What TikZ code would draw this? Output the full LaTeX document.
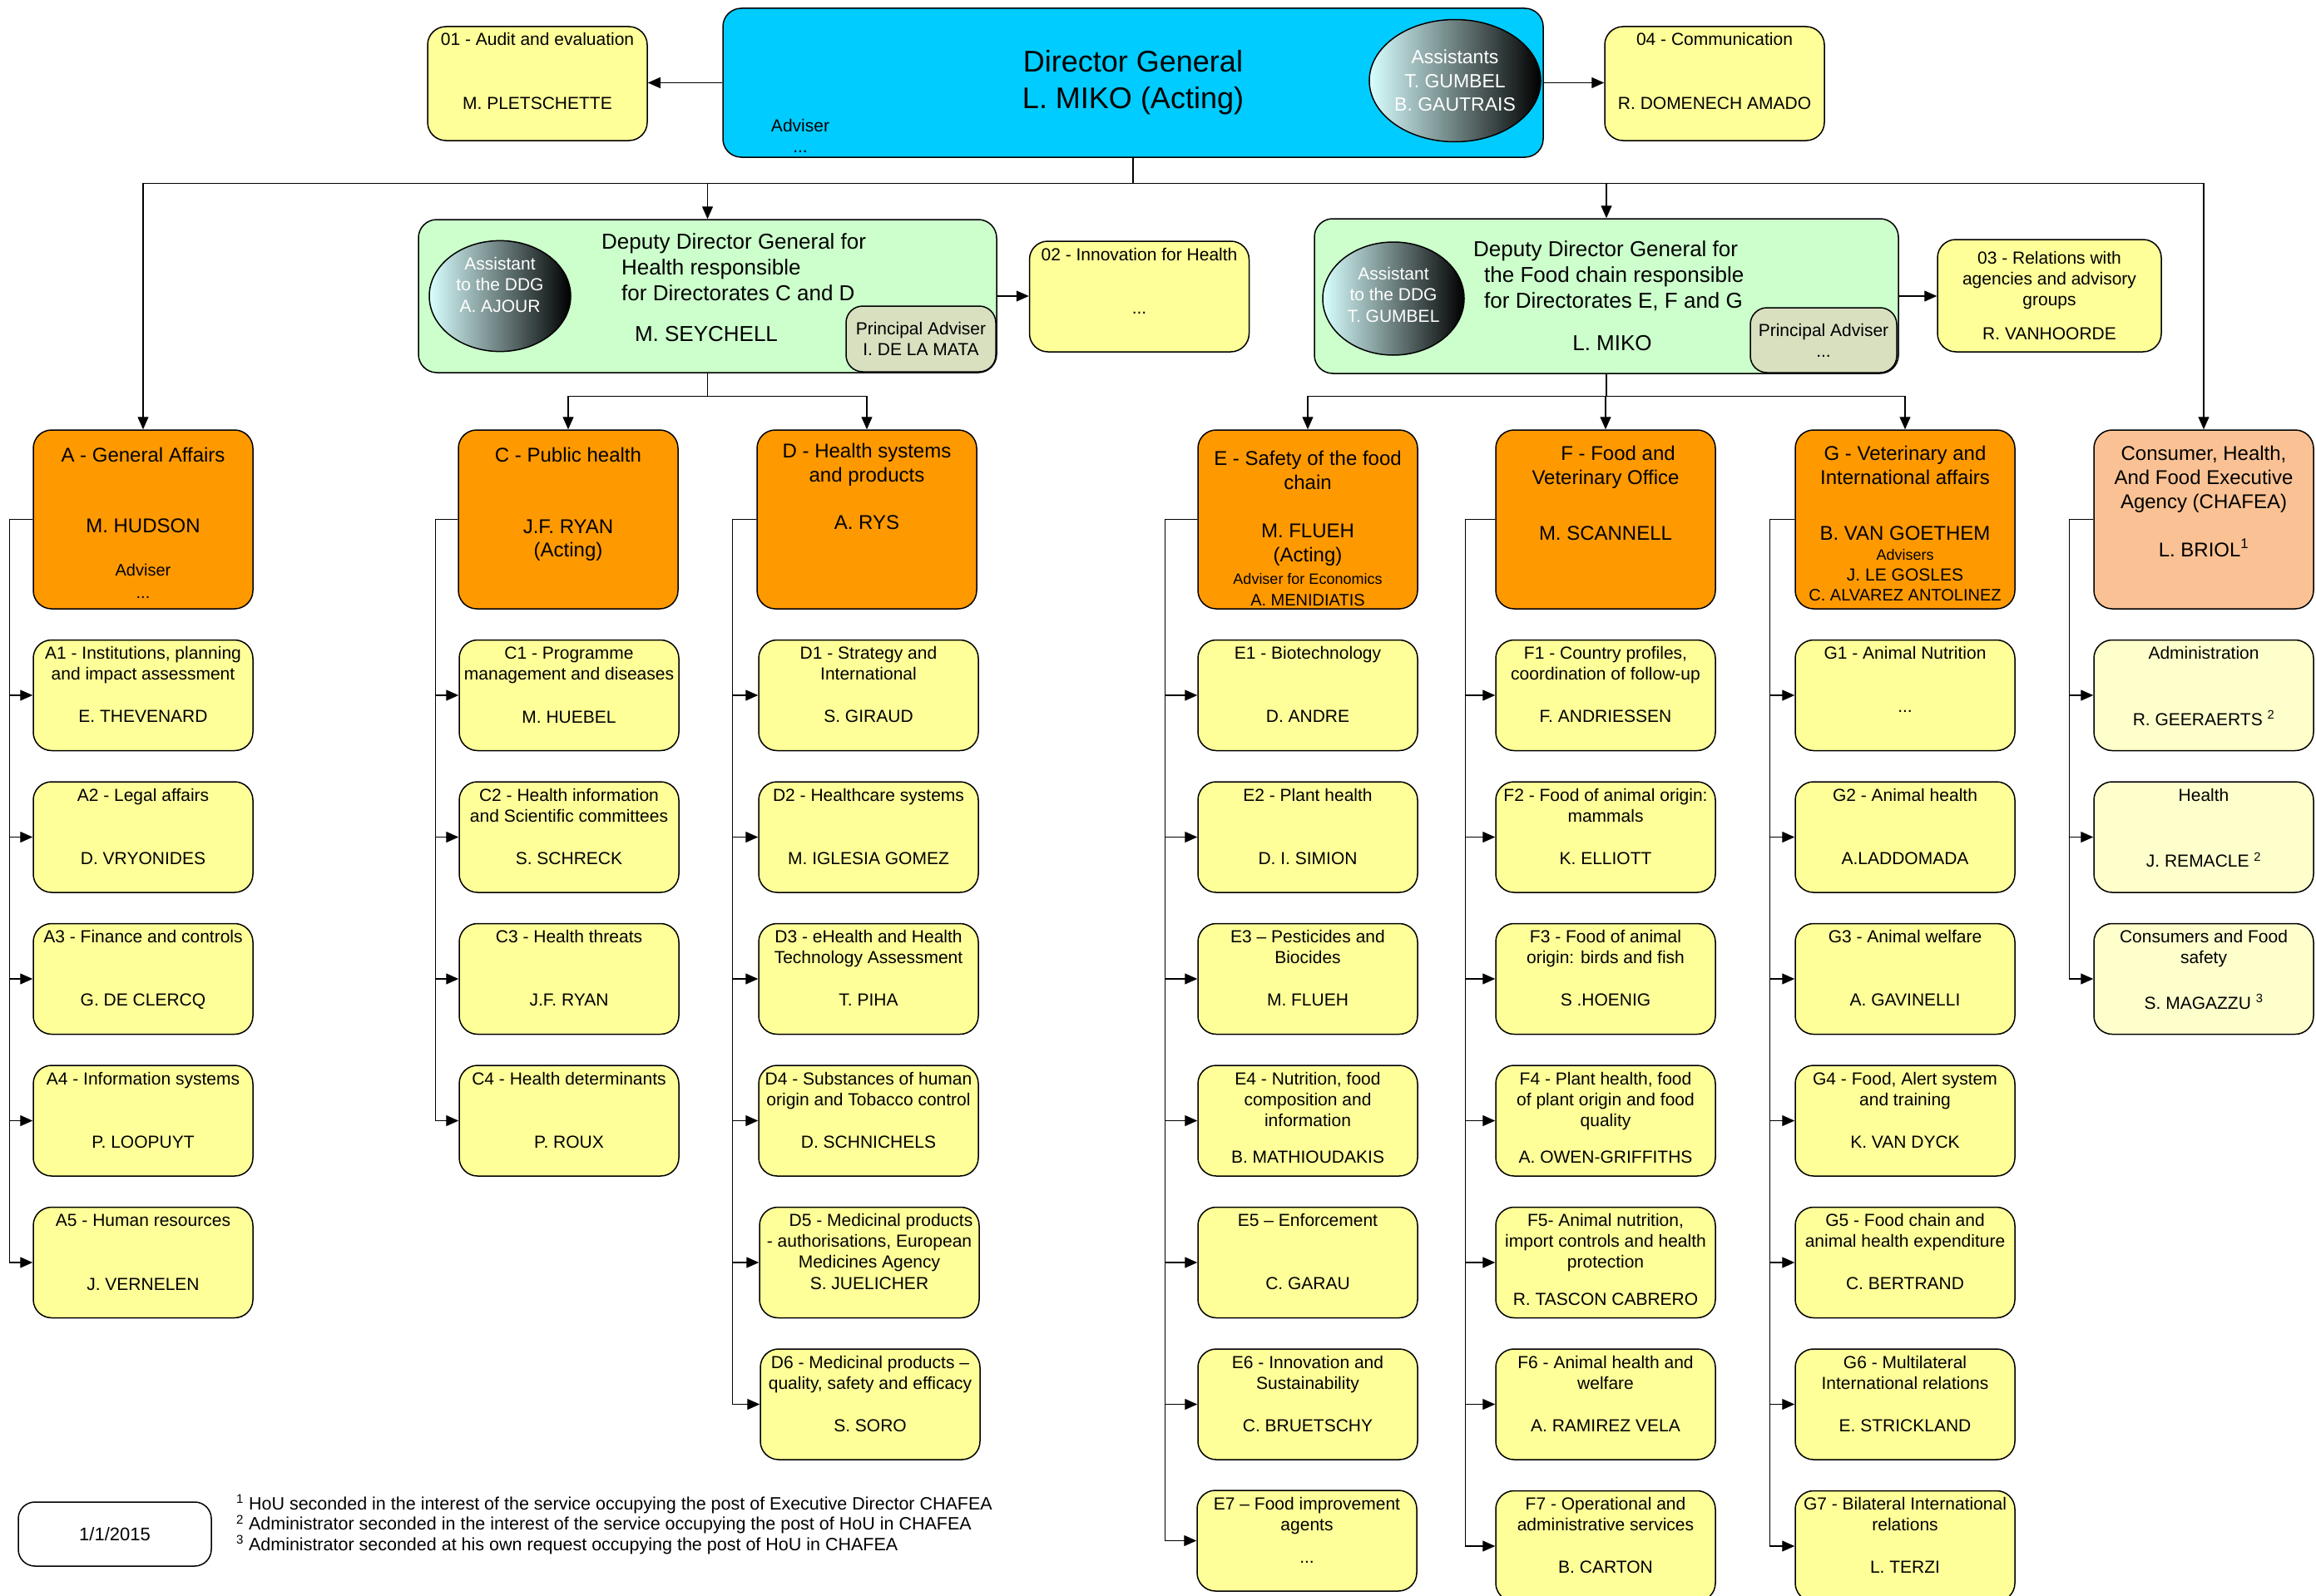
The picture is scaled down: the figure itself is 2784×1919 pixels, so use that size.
\documentclass[tikz,border=0pt]{standalone}
\usepackage{fontspec}
\setmainfont{Liberation Sans}
\usetikzlibrary{shapes.geometric,arrows.meta}

\definecolor{dgblue}{RGB}{0,204,255}
\definecolor{ddggreen}{RGB}{204,255,204}
\definecolor{unityellow}{RGB}{255,255,153}
\definecolor{paleyellow}{RGB}{255,255,204}
\definecolor{dirorange}{RGB}{255,153,0}
\definecolor{agencypeach}{RGB}{250,194,148}
\definecolor{advgrey}{RGB}{216,224,192}

% unit box text: title on top, name on the fourth line
\newcommand{\unittext}[3][133pt]{\parbox[c][#1][t]{264pt}{\centering\rule{0pt}{23pt}\parbox[t][76pt][t]{264pt}{\centering #2}\par #3}}
% directorate box text, first baseline given
\newcommand{\dirtext}[2]{\parbox[c][215pt][t]{264pt}{\centering\rule{0pt}{#1}#2}}
\newcommand{\smalltext}{\fontsize{20}{29}\selectfont}
\newcommand{\tinytext}{\fontsize{18}{29}\selectfont}

\begin{document}
\begin{tikzpicture}[x=1pt,y=-1pt,
  every node/.style={inner sep=0pt},
  box/.style={draw=black,line width=1.5pt,rounded corners=22pt},
  unit/.style={box,fill=unityellow,font=\fontsize{21}{25}\selectfont},
  agencyunit/.style={box,fill=paleyellow,font=\fontsize{21}{25}\selectfont},
  directorate/.style={box,fill=dirorange,font=\fontsize{24}{29}\selectfont},
  assistant/.style={ellipse,draw=black,line width=1.5pt,left color=cyan!15,right color=black,text=white,align=center,font=\fontsize{21}{25.5}\selectfont},
  link/.style={line width=1.2pt,-{Triangle[length=15pt,width=13pt]}}]
	\fill[white] (0,0) rectangle (2784,1919);
	\useasboundingbox (0,0) rectangle (2784,1919);

	% top level
	\node[box,fill=dgblue,minimum width=986pt,minimum height=179pt,align=center,font=\fontsize{36}{44}\selectfont] (dg) at (1362,99.5) {Director General\\L. MIKO (Acting)};
	\node[assistant,minimum width=194pt,minimum height=147pt,font=\fontsize{23}{28.5}\selectfont] (dgassist) at (1749,97) {Assistants\\T. GUMBEL\\B. GAUTRAIS};
	\node[align=center,font=\fontsize{21}{25}\selectfont] (dgadv) at (962,163) {Adviser\\...};
	\node[unit] (audit) at (646,100.5) {\unittext[137pt]{01 - Audit and evaluation}{M. PLETSCHETTE}};
	\node[unit] (comm) at (2061,100.5) {\unittext[137pt]{04 - Communication}{R. DOMENECH AMADO}};

	% deputy directors general
	\node[box,fill=ddggreen,minimum width=695pt,minimum height=184pt] (ddgh) at (850.5,356) {};
	\node[assistant,minimum width=170pt,minimum height=130pt] (ddghassist) at (601,356) {Assistant\\to the  DDG\\A. AJOUR\\[2.5pt]\mbox{}};
	\node[anchor=north west,align=left,font=\fontsize{26}{31}\selectfont] (ddghtitle) at (723,280) {Deputy Director General for\\\hspace*{24pt}Health responsible\\\hspace*{24pt}for Directorates C and D};
	\node[font=\fontsize{26}{31}\selectfont] (ddghname) at (849,402) {M. SEYCHELL};
	\node[box,fill=advgrey,rounded corners=20pt,minimum width=180pt,minimum height=79pt,align=center,font=\fontsize{21}{25}\selectfont] (ddghadv) at (1107,407.5) {Principal Adviser\\I. DE LA MATA};
	\node[unit] (inno) at (1369.5,356.5) {\unittext{02 - Innovation for Health}{...}};

	\node[box,fill=ddggreen,minimum width=702pt,minimum height=186pt] (ddgf) at (1931,356) {};
	\node[assistant,minimum width=170pt,minimum height=136pt] (ddgfassist) at (1675,359) {Assistant\\to the  DDG\\T. GUMBEL\\[-15.5pt]\mbox{}};
	\node[anchor=north west,align=left,font=\fontsize{26}{31}\selectfont] (ddgftitle) at (1771,289) {Deputy Director General for\\\hspace*{13pt}the Food chain responsible\\\hspace*{13pt}for Directorates E, F and G};
	\node[font=\fontsize{26}{31}\selectfont] (ddgfname) at (1938,413) {L. MIKO};
	\node[box,fill=advgrey,rounded corners=20pt,minimum width=176pt,minimum height=78pt,align=center,font=\fontsize{21}{25}\selectfont] (ddgfadv) at (2192,409) {Principal Adviser\\...};
	\node[unit,minimum width=269pt,minimum height=135pt,align=center] (rel) at (2463.5,355.5) {03 - Relations with\\agencies and advisory\\groups\\[16pt]R. VANHOORDE};

	% directorates
	\node[directorate] (dira) at (172,624.5) {\dirtext{38pt}{A - General Affairs\\[56pt]M. HUDSON\\[23pt]{\smalltext Adviser}\\[-2pt]{\smalltext ...}}};
	\node[directorate] (dirc) at (683,624.5) {\dirtext{38pt}{C - Public health\\[57pt]J.F. RYAN\\[-1pt](Acting)}};
	\node[directorate] (dird) at (1042,624.5) {\dirtext{33pt}{D - Health systems\\and products\\[28pt]A. RYS}};
	\node[directorate] (dire) at (1572,624.5) {\dirtext{42pt}{E - Safety of the food\\chain\\[29pt]M. FLUEH\\[0pt](Acting)\\[-2pt]{\tinytext Adviser for Economics}\\[-3pt]{\smalltext A. MENIDIATIS}}};
	\node[directorate] (dirf) at (1930,624.5) {\dirtext{36pt}{\hspace*{30pt}F - Food and\\Veterinary Office\\[38pt]M. SCANNELL}};
	\node[directorate] (dirg) at (2290,624.5) {\dirtext{36pt}{G - Veterinary and\\International affairs\\[38pt]B. VAN GOETHEM\\[-5pt]{\tinytext Advisers}\\[-4pt]{\fontsize{21}{29}\selectfont J. LE GOSLES}\\[-5pt]{\smalltext C. ALVAREZ ANTOLINEZ}}};
	\node[directorate,fill=agencypeach] (dirch) at (2649,624.5) {\dirtext{36pt}{Consumer, Health,\\And Food Executive\\Agency (CHAFEA)\\[29pt]L. BRIOL\textsuperscript{1}}};

	% units A
	\node[unit] (a1) at (172,836) {\unittext{A1 - Institutions, planning\\and impact assessment}{E. THEVENARD}};
	\node[unit] (a2) at (172,1006.5) {\unittext{A2 - Legal affairs}{D. VRYONIDES}};
	\node[unit] (a3) at (172,1177) {\unittext{A3 - Finance and controls}{G. DE CLERCQ}};
	\node[unit] (a4) at (172,1347.5) {\unittext{A4 - Information systems}{P. LOOPUYT}};
	\node[unit] (a5) at (172,1518) {\unittext{A5 - Human resources}{J. VERNELEN}};

	% units C
	\node[unit] (c1) at (684,836) {\unittext{C1 - Programme\\management and diseases}{M. HUEBEL}};
	\node[unit] (c2) at (684,1006.5) {\unittext{C2 - Health information\\and Scientific committees}{S. SCHRECK}};
	\node[unit] (c3) at (684,1177) {\unittext{C3 - Health threats}{J.F. RYAN}};
	\node[unit] (c4) at (684,1347.5) {\unittext{C4 - Health determinants}{P. ROUX}};

	% units D
	\node[unit] (d1) at (1044,836) {\unittext{D1 - Strategy and\\International}{S. GIRAUD}};
	\node[unit] (d2) at (1044,1006.5) {\unittext{D2 - Healthcare systems}{M. IGLESIA GOMEZ}};
	\node[unit] (d3) at (1044,1177) {\unittext{D3 - eHealth and Health\\Technology Assessment}{T. PIHA}};
	\node[unit] (d4) at (1044,1347.5) {\unittext{D4 - Substances of human\\origin and Tobacco control}{D. SCHNICHELS}};
	\node[unit] (d5) at (1045,1518) {\unittext{\hspace*{28pt}D5 - Medicinal products\\- authorisations, European\\Medicines Agency}{S. JUELICHER}};
	\node[unit] (d6) at (1046,1688.5) {\unittext{D6 - Medicinal products –\\quality, safety and efficacy}{S. SORO}};

	% units E
	\node[unit] (e1) at (1572,836) {\unittext{E1 - Biotechnology}{D. ANDRE}};
	\node[unit] (e2) at (1572,1006.5) {\unittext{E2 - Plant health}{D. I. SIMION}};
	\node[unit] (e3) at (1572,1177) {\unittext{E3 – Pesticides and\\Biocides}{M. FLUEH}};
	\node[unit] (e4) at (1572,1347.5) {\unittext{E4 - Nutrition, food\\composition and\\information}{\rule{0pt}{33pt}B. MATHIOUDAKIS}};
	\node[unit] (e5) at (1572,1518) {\unittext{E5 – Enforcement}{C. GARAU}};
	\node[unit] (e6) at (1572,1688.5) {\unittext{E6 - Innovation and\\Sustainability}{C. BRUETSCHY}};
	\node[unit] (e7) at (1571,1852.5) {\unittext[121pt]{E7 – Food improvement\\agents}{...}};

	% units F
	\node[unit] (f1) at (1930,836) {\unittext{F1 - Country profiles,\\coordination of follow-up}{F. ANDRIESSEN}};
	\node[unit] (f2) at (1930,1006.5) {\unittext{F2 - Food of animal origin:\\mammals}{K. ELLIOTT}};
	\node[unit] (f3) at (1930,1177) {\unittext{F3 - Food of animal\\origin: birds and fish}{S .HOENIG}};
	\node[unit] (f4) at (1930,1347.5) {\unittext{F4 - Plant health, food\\of plant origin and food\\quality}{\rule{0pt}{33pt}A. OWEN-GRIFFITHS}};
	\node[unit] (f5) at (1930,1518) {\unittext{F5- Animal nutrition,\\import controls and health\\protection}{\rule{0pt}{33pt}R. TASCON CABRERO}};
	\node[unit] (f6) at (1930,1688.5) {\unittext{F6 - Animal health and\\welfare}{A. RAMIREZ VELA}};
	\node[unit] (f7) at (1930,1859) {\unittext{F7 - Operational and\\administrative services}{B. CARTON}};

	% units G
	\node[unit] (g1) at (2290,836) {\unittext{G1 - Animal Nutrition}{...}};
	\node[unit] (g2) at (2290,1006.5) {\unittext{G2 - Animal health}{A.LADDOMADA}};
	\node[unit] (g3) at (2290,1177) {\unittext{G3 - Animal welfare}{A. GAVINELLI}};
	\node[unit] (g4) at (2290,1347.5) {\unittext{G4 - Food, Alert system\\and training}{K. VAN DYCK}};
	\node[unit] (g5) at (2290,1518) {\unittext{G5 - Food chain and\\animal health expenditure}{C. BERTRAND}};
	\node[unit] (g6) at (2290,1688.5) {\unittext{G6 - Multilateral\\International relations}{E. STRICKLAND}};
	\node[unit] (g7) at (2290,1859) {\unittext{G7 - Bilateral International\\relations}{L. TERZI}};

	% units CHAFEA
	\node[agencyunit] (h1) at (2649,836) {\unittext{Administration}{R. GEERAERTS \textsuperscript{2}}};
	\node[agencyunit] (h2) at (2649,1006.5) {\unittext{Health}{J. REMACLE \textsuperscript{2}}};
	\node[agencyunit] (h3) at (2649,1177) {\unittext{Consumers and Food\\safety}{S. MAGAZZU \textsuperscript{3}}};

	% date and notes
	\node[box,fill=white,rounded corners=20pt,minimum width=232pt,minimum height=77pt,font=\fontsize{22}{26}\selectfont] (date) at (138,1844.5) {1/1/2015};
	\node[anchor=north west,align=left,font=\fontsize{21.5}{24.5}\selectfont] (notes) at (284,1797) {\textsuperscript{1} HoU seconded in the interest of the service occupying the post of Executive Director CHAFEA\\\textsuperscript{2} Administrator seconded in the interest of the service occupying the post of HoU in CHAFEA\\\textsuperscript{3} Administrator seconded at his own request occupying the post of HoU in CHAFEA};

	% connectors
	\draw[link] (dg.west) -- (dg.west -| audit.east);
	\draw[link] (dg.east) -- (dg.east -| comm.west);
	\draw[link] (dg.south) -- ++(0,31) -| (dira.north);
	\draw[link] (dg.south) -- ++(0,31) -| (ddgh.north);
	\draw[link] (dg.south) -- ++(0,31) -| (ddgf.north);
	\draw[link] (dg.south) -- ++(0,31) -| (dirch.north);
	\draw[link] (ddgh.east) -- (ddgh.east -| inno.west);
	\draw[link] (ddgf.east) -- (ddgf.east -| rel.west);
	\draw[link] (ddgh.south) -- ++(0,28) -| (dirc.north);
	\draw[link] (ddgh.south) -- ++(0,28) -| (dird.north);
	\draw[link] (ddgf.south) -- ++(0,27) -| (dire.north);
	\draw[link] (ddgf.south) -- ++(0,27) -| (dirf.north);
	\draw[link] (ddgf.south) -- ++(0,27) -| (dirg.north);

	\draw[link] (dira.west) -- ++(-28,0) |- (a1.west);
	\draw[link] (dira.west) -- ++(-28,0) |- (a2.west);
	\draw[link] (dira.west) -- ++(-28,0) |- (a3.west);
	\draw[link] (dira.west) -- ++(-28,0) |- (a4.west);
	\draw[link] (dira.west) -- ++(-28,0) |- (a5.west);

	\draw[link] (dirc.west) -- ++(-27,0) |- (c1.west);
	\draw[link] (dirc.west) -- ++(-27,0) |- (c2.west);
	\draw[link] (dirc.west) -- ++(-27,0) |- (c3.west);
	\draw[link] (dirc.west) -- ++(-27,0) |- (c4.west);

	\draw[link] (dird.west) -- ++(-29,0) |- (d1.west);
	\draw[link] (dird.west) -- ++(-29,0) |- (d2.west);
	\draw[link] (dird.west) -- ++(-29,0) |- (d3.west);
	\draw[link] (dird.west) -- ++(-29,0) |- (d4.west);
	\draw[link] (dird.west) -- ++(-29,0) |- (d5.west);
	\draw[link] (dird.west) -- ++(-29,0) |- (d6.west);

	\draw[link] (dire.west) -- ++(-39,0) |- (e1.west);
	\draw[link] (dire.west) -- ++(-39,0) |- (e2.west);
	\draw[link] (dire.west) -- ++(-39,0) |- (e3.west);
	\draw[link] (dire.west) -- ++(-39,0) |- (e4.west);
	\draw[link] (dire.west) -- ++(-39,0) |- (e5.west);
	\draw[link] (dire.west) -- ++(-39,0) |- (e6.west);
	\draw[link] (dire.west) -- ++(-39,0) |- (e7.west);

	\draw[link] (dirf.west) -- ++(-36,0) |- (f1.west);
	\draw[link] (dirf.west) -- ++(-36,0) |- (f2.west);
	\draw[link] (dirf.west) -- ++(-36,0) |- (f3.west);
	\draw[link] (dirf.west) -- ++(-36,0) |- (f4.west);
	\draw[link] (dirf.west) -- ++(-36,0) |- (f5.west);
	\draw[link] (dirf.west) -- ++(-36,0) |- (f6.west);
	\draw[link] (dirf.west) -- ++(-36,0) |- (f7.west);

	\draw[link] (dirg.west) -- ++(-30,0) |- (g1.west);
	\draw[link] (dirg.west) -- ++(-30,0) |- (g2.west);
	\draw[link] (dirg.west) -- ++(-30,0) |- (g3.west);
	\draw[link] (dirg.west) -- ++(-30,0) |- (g4.west);
	\draw[link] (dirg.west) -- ++(-30,0) |- (g5.west);
	\draw[link] (dirg.west) -- ++(-30,0) |- (g6.west);
	\draw[link] (dirg.west) -- ++(-30,0) |- (g7.west);

	\draw[link] (dirch.west) -- ++(-29,0) |- (h1.west);
	\draw[link] (dirch.west) -- ++(-29,0) |- (h2.west);
	\draw[link] (dirch.west) -- ++(-29,0) |- (h3.west);
\end{tikzpicture}
\end{document}
